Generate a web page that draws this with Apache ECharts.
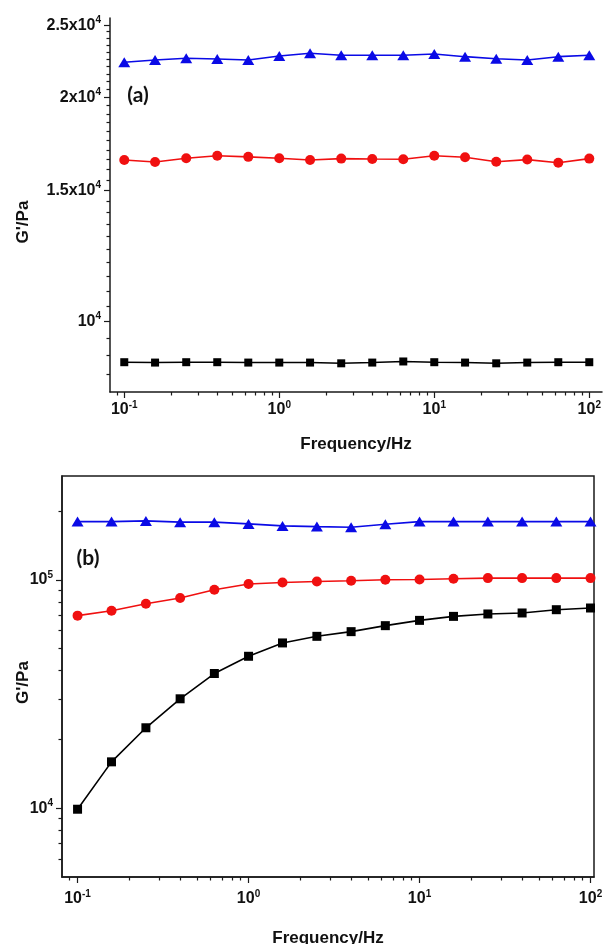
<!DOCTYPE html>
<html><head><meta charset="utf-8">
<script src="https://cdn.jsdelivr.net/npm/echarts@6/dist/echarts.min.js"></script>
<style>html,body{margin:0;padding:0;background:#fff}#c{width:606px;height:944px}</style>
</head><body><div id="c"></div><script>
// ---- data ----
const freq = [0.1, 0.158, 0.251, 0.398, 0.631, 1, 1.58, 2.51, 3.98, 6.31, 10, 15.8, 25.1, 39.8, 63.1, 100];
// panel (a)
const aBlue  = [22290, 22450, 22570, 22520, 22450, 22730, 22920, 22780, 22780, 22780, 22870, 22680, 22540, 22450, 22680, 22780];
const aRed   = [16480, 16380, 16570, 16700, 16640, 16570, 16480, 16550, 16530, 16520, 16700, 16620, 16390, 16500, 16340, 16550];
const aBlack = [8820, 8810, 8820, 8820, 8810, 8810, 8810, 8790, 8810, 8840, 8820, 8810, 8790, 8810, 8820, 8820];
// panel (b)
const bBlue  = [179700, 179700, 181000, 178700, 178700, 175600, 172100, 170900, 169900, 175100, 179700, 179700, 179700, 179700, 179700, 179700];
const bRed   = [69650, 73230, 78550, 83200, 90440, 95770, 97320, 98300, 99000, 100000, 100300, 101000, 101700, 101700, 101700, 101700];
const bBlack = [9900, 15960, 22500, 30130, 38870, 46250, 52910, 56550, 59280, 62970, 66420, 69150, 70840, 71560, 73960, 75240];
// ticks
const xMajor = [0.1, 1, 10, 100];
const xMajorExp = ['-1', '0', '1', '2'];
const xMinor = [0.09, 0.2, 0.3, 0.4, 0.5, 0.6, 0.7, 0.8, 0.9, 2, 3, 4, 5, 6, 7, 8, 9, 20, 30, 40, 50, 60, 70, 80, 90];
const aYMajor = [10000, 15000, 20000, 25000];
const aYMant = ['', '1.5x', '2x', '2.5x'];
const aYMinor = [8500, 9000, 9500, 10500, 11000, 11500, 12000, 12500, 13000, 13500, 14000, 14500,
  15500, 16000, 16500, 17000, 17500, 18000, 18500, 19000, 19500, 20500, 21000, 21500, 22000, 22500, 23000, 23500, 24000, 24500];
const bYMajor = [10000, 100000];
const bYExp = ['4', '5'];
const bYMinor = [6000, 7000, 8000, 9000, 20000, 30000, 40000, 50000, 60000, 70000, 80000, 90000, 200000];

// ---- styling ----
const FONT = 'Liberation Sans, Arial, sans-serif';
const rich = {
  b: {fontFamily: FONT, fontWeight: 'bold', fontSize: 16, lineHeight: 20, color: '#111'},
  s: {fontFamily: FONT, fontWeight: 'bold', fontSize: 10, lineHeight: 11, verticalAlign: 'top', color: '#111'}
};
function nearestIdx(arr, v) {
  let bi = 0, bd = Infinity;
  arr.forEach((a, i) => { const d = Math.abs(Math.log(a) - Math.log(v)); if (d < bd) { bd = d; bi = i; } });
  return bd < 0.01 ? bi : -1;
}
const xFmt = v => { const i = nearestIdx(xMajor, v); return i < 0 ? '' : '{b|10}{s|' + xMajorExp[i] + '}'; };
const aYFmt = v => { const i = nearestIdx(aYMajor, v); return i < 0 ? '' : '{b|' + aYMant[i] + '10}{s|4}'; };
const bYFmt = v => { const i = nearestIdx(bYMajor, v); return i < 0 ? '' : '{b|10}{s|' + bYExp[i] + '}'; };

const lineCol = '#1a1a1a';
function xAxisDef(grid, min, max, major, withName, margin, nameGap) {
  return {
    type: 'log', logBase: 10, gridIndex: grid, min: min, max: max, position: 'bottom', offset: 0,
    axisLine: {show: major, onZero: false, lineStyle: {color: lineCol, width: 1.5}},
    axisTick: {show: true, inside: false, length: major ? 6 : 3.5, lineStyle: {color: lineCol, width: 1.2},
      customValues: major ? xMajor : xMinor},
    axisLabel: {show: major, customValues: xMajor, formatter: xFmt, rich: rich, margin: margin},
    minorTick: {show: false}, splitLine: {show: false},
    name: withName ? 'Frequency/Hz' : '', nameLocation: 'middle', nameGap: nameGap, nameMoveOverlap: false,
    nameTextStyle: {fontFamily: FONT, fontWeight: 'bold', fontSize: 17, color: '#111'}
  };
}
function yAxisDef(grid, min, max, major, majVals, minVals, fmt, withName, nameGap, namePad) {
  return {
    type: 'log', logBase: 10, gridIndex: grid, min: min, max: max, position: 'left', offset: 0,
    axisLine: {show: major, onZero: false, lineStyle: {color: lineCol, width: 1.5}},
    axisTick: {show: true, inside: false, length: major ? 6 : 3.5, lineStyle: {color: lineCol, width: 1.2},
      customValues: major ? majVals : minVals},
    axisLabel: {show: major, customValues: majVals, formatter: fmt, rich: rich, margin: 9},
    minorTick: {show: false}, splitLine: {show: false},
    name: withName ? "G'/Pa" : '', nameLocation: 'middle', nameGap: nameGap, nameRotate: 90, nameMoveOverlap: false,
    nameTextStyle: {fontFamily: FONT, fontWeight: 'bold', fontSize: 17, color: '#111', padding: namePad}
  };
}
function ser(x, y, data, color, symbol, size) {
  return {
    type: 'line', xAxisIndex: x, yAxisIndex: y, data: freq.map((f, i) => [f, data[i]]),
    symbol: symbol, symbolSize: size, showSymbol: true,
    lineStyle: {color: color, width: 1.6}, itemStyle: {color: color},
    emphasis: {disabled: true}, animation: false, z: 5
  };
}
const aXmin = 0.0809, aXmax = 120.8, aYmin = 8044, aYmax = 25560;
const bXmin = 0.0811, bXmax = 104.8, bYmin = 5000, bYmax = 284600;
const option = {
  animation: false,
  backgroundColor: '#fff',
  grid: [
    {left: 110, top: 18, width: 492, height: 374, show: false, containLabel: false, outerBoundsMode: 'none'},
    {left: 62, top: 476, width: 532, height: 401, show: true, borderColor: lineCol, borderWidth: 1.5, containLabel: false, outerBoundsMode: 'none'}
  ],
  xAxis: [
    xAxisDef(0, aXmin, aXmax, true, true, 8, 44),
    xAxisDef(0, aXmin, aXmax, false, false, 8, 44),
    xAxisDef(1, bXmin, bXmax, true, true, 12, 53),
    xAxisDef(1, bXmin, bXmax, false, false, 12, 53)
  ],
  yAxis: [
    yAxisDef(0, aYmin, aYmax, true, aYMajor, aYMinor, aYFmt, true, 78, [0, 34, 0, 0]),
    yAxisDef(0, aYmin, aYmax, false, aYMajor, aYMinor, aYFmt, false, 78, 0),
    yAxisDef(1, bYmin, bYmax, true, bYMajor, bYMinor, bYFmt, true, 30, [0, 12, 0, 0]),
    yAxisDef(1, bYmin, bYmax, false, bYMajor, bYMinor, bYFmt, false, 30, 0)
  ],
  series: [
    ser(0, 0, aBlack, '#000000', 'rect', [8, 8]),
    ser(0, 0, aRed, '#f01010', 'circle', 10),
    ser(0, 0, aBlue, '#0a0ae6', 'triangle', [12, 10]),
    ser(2, 2, bBlack, '#000000', 'rect', [9, 9]),
    ser(2, 2, bRed, '#f01010', 'circle', 10),
    ser(2, 2, bBlue, '#0a0ae6', 'triangle', [12, 10])
  ],
  graphic: [
    {type: 'text', x: 138, y: 95, style: {text: '(a)', font: 'bold 21px Lato, "Open Sans", sans-serif', fill: '#111', align: 'center', verticalAlign: 'middle'}},
    {type: 'text', x: 88, y: 558, style: {text: '(b)', font: 'bold 21px Lato, "Open Sans", sans-serif', fill: '#111', align: 'center', verticalAlign: 'middle'}}
  ]
};
const chart = echarts.init(document.getElementById('c'), null, {renderer: 'canvas'});
chart.setOption(option);
</script></body></html>
